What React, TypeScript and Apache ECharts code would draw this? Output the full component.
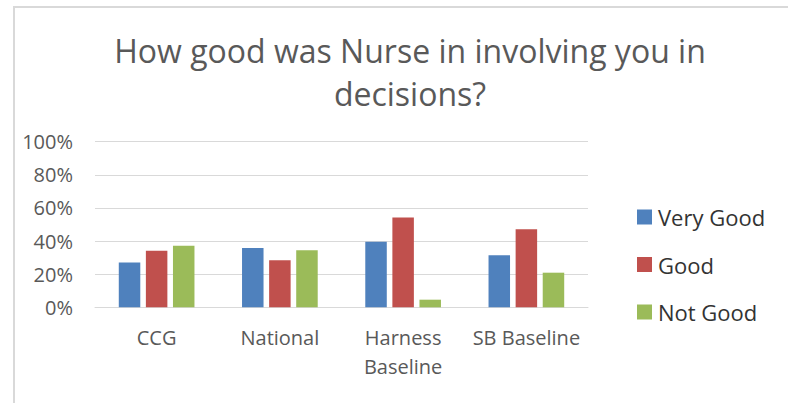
import React, { useEffect, useRef } from "react";
import * as echarts from "echarts";

const categories = ["CCG", "National", "Harness Baseline", "SB Baseline"];
const seriesNames = ["Very Good", "Good", "Not Good"];
const veryGood = [0.27, 0.358, 0.396, 0.314];
const good = [0.342, 0.284, 0.543, 0.471];
const notGood = [0.372, 0.344, 0.046, 0.209];
const colors = ["#4F81BD", "#C0504D", "#9BBB59"];
const titleText = "How good was Nurse in involving you in\ndecisions?";

export default function App() {
  const ref = useRef<HTMLDivElement>(null);
  useEffect(() => {
    if (!ref.current) return;
    const chart = echarts.init(ref.current, null, { renderer: "svg" });
    const font = "'Open Sans', sans-serif";
    const values = [veryGood, good, notGood];
    chart.setOption({
      animation: false,
      backgroundColor: "#ffffff",
      textStyle: { fontFamily: font },
      title: {
        text: titleText,
        left: 405,
        top: 24,
        textAlign: "center",
        textStyle: {
          fontFamily: font,
          fontSize: 32,
          fontWeight: "normal",
          color: "#595959",
          lineHeight: 43,
        },
      },
      graphic: [
        {
          type: "rect",
          shape: { x: 14, y: 7, width: 820, height: 430 },
          style: { fill: "none", stroke: "#d9d9d9", lineWidth: 2 },
          silent: true,
        },
      ],
      legend: {
        orient: "vertical",
        left: 632,
        top: 201,
        itemWidth: 15,
        itemHeight: 15,
        itemGap: 25.5,
        icon: "rect",
        data: seriesNames,
        textStyle: {
          fontFamily: font,
          fontSize: 22,
          color: "#333333",
          lineHeight: 22,
          padding: [0, 0, 0, 1],
        },
      },
      grid: { left: 95, right: 200, top: 141.7, bottom: 95.7 },
      xAxis: {
        type: "category",
        data: categories,
        axisLine: { lineStyle: { color: "#d9d9d9", width: 1 } },
        axisTick: { show: false },
        axisLabel: {
          fontFamily: font,
          fontSize: 20,
          color: "#595959",
          margin: 16,
          lineHeight: 28.5,
          interval: 0,
          formatter: (v: string) => (v === "Harness Baseline" ? "Harness\nBaseline" : v),
        },
      },
      yAxis: {
        type: "value",
        min: 0,
        max: 1,
        interval: 0.2,
        axisLine: { show: false },
        axisTick: { show: false },
        splitLine: { lineStyle: { color: "#d9d9d9", width: 1 } },
        axisLabel: {
          fontFamily: font,
          fontSize: 20,
          color: "#595959",
          margin: 22,
          formatter: (v: number) => Math.round(v * 100) + "%",
        },
      },
      series: seriesNames.map((name, i) => ({
        name,
        type: "bar",
        data: values[i],
        barWidth: 21.5,
        barGap: "26%",
        itemStyle: { color: colors[i] },
      })),
    });
    return () => chart.dispose();
  }, []);
  return (
    <div
      ref={ref}
      style={{ position: "fixed", left: 0, top: 0, width: 788, height: 403 }}
    />
  );
}
